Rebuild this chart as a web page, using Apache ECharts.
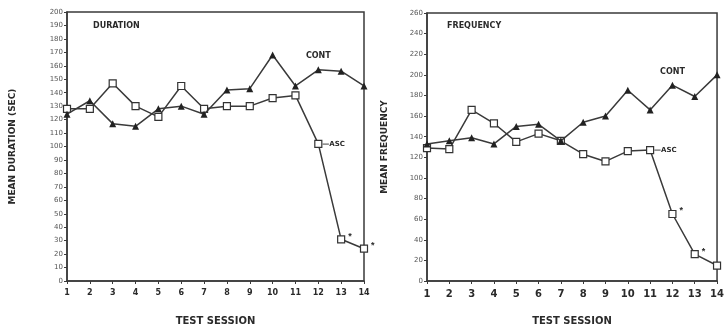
<!DOCTYPE html>
<html>
<head>
<meta charset="utf-8">
<script src="https://cdn.jsdelivr.net/npm/echarts@6/dist/echarts.min.js"></script>
<style>
  html, body { margin: 0; padding: 0; background: #fff; }
  #chart { width: 727px; height: 331px; }
</style>
</head>
<body>
<div id="chart"></div>
<script>
// test sessions on x
var sessions = ['1', '2', '3', '4', '5', '6', '7', '8', '9', '10', '11', '12', '13', '14'];

// mean duration (sec)
var durCont = [124, 134, 117, 115, 128, 130, 124, 142, 143, 168, 145, 157, 156, 145];
var durAsc  = [128, 128, 147, 130, 122, 145, 128, 130, 130, 136, 138, 102, 31, 24];

// mean frequency
var freqCont = [133, 136, 139, 133, 150, 152, 136, 154, 160, 185, 166, 190, 179, 200];
var freqAsc  = [129, 128, 166, 153, 135, 143, 136, 123, 116, 126, 127, 65, 26, 15];

// sessions marked with an asterisk
var durStars = [13, 14];
var freqStars = [12, 13];

var lineColor = '#3a3a3a';
var textColor = '#2a2a2a';
var font = 'DejaVu Sans';

function withStars(values, stars) {
  return values.map(function (v, i) {
    if (stars.indexOf(i + 1) >= 0) {
      return { value: v, label: { show: true, formatter: '*', position: 'right', distance: 3,
        color: textColor, fontSize: 9, fontWeight: 'bold', offset: [0, -3] } };
    }
    return v;
  });
}

function xAxisFor(idx) {
  return {
    gridIndex: idx,
    type: 'category',
    data: sessions,
    boundaryGap: false,
    name: 'TEST SESSION',
    nameLocation: 'middle',
    nameGap: 35,
    nameTextStyle: { color: textColor, fontFamily: font, fontWeight: 'bold', fontSize: 10 },
    axisLine: { lineStyle: { color: lineColor, width: 1.5 } },
    axisTick: { alignWithLabel: true, length: 3, lineStyle: { color: lineColor } },
    axisLabel: { color: textColor, fontFamily: font, fontWeight: 'bold', fontSize: idx ? 10 : 8, margin: 8 },
    splitLine: { show: false }
  };
}

function yAxisFor(idx, name, max, step, gap) {
  return {
    gridIndex: idx,
    type: 'value',
    min: 0,
    max: max,
    interval: step,
    name: name,
    nameLocation: 'middle',
    nameGap: gap,
    nameTextStyle: { color: textColor, fontFamily: font, fontWeight: 'bold', fontSize: 9 },
    axisLine: { show: true, lineStyle: { color: lineColor, width: 1.5 } },
    axisTick: { show: true, length: 3, lineStyle: { color: lineColor } },
    axisLabel: { color: '#555', fontFamily: font, fontSize: 7, margin: 4 },
    splitLine: { show: false }
  };
}

function contSeries(idx, values, labelAt) {
  return {
    name: 'CONT',
    type: 'line',
    xAxisIndex: idx,
    yAxisIndex: idx,
    data: values,
    symbol: 'triangle',
    symbolSize: 7,
    lineStyle: { color: lineColor, width: 1.5 },
    itemStyle: { color: '#222' },
    z: 3,
    markPoint: {
      symbol: 'circle',
      symbolSize: 0,
      label: { show: true, formatter: 'CONT', color: textColor, fontFamily: font, fontWeight: 'bold', fontSize: 8 },
      data: [{ coord: labelAt }]
    }
  };
}

function ascSeries(idx, values, labelAt) {
  return {
    name: 'ASC',
    type: 'line',
    xAxisIndex: idx,
    yAxisIndex: idx,
    data: values,
    symbol: 'rect',
    symbolSize: 7,
    lineStyle: { color: lineColor, width: 1.5 },
    itemStyle: { color: '#fff', borderColor: '#333', borderWidth: 1.2 },
    z: 2,
    markPoint: {
      symbol: 'circle',
      symbolSize: 0,
      label: { show: true, formatter: '—ASC', position: 'right', distance: 4,
        color: textColor, fontFamily: font, fontWeight: 'bold', fontSize: 7 },
      data: [{ coord: labelAt }]
    }
  };
}

var chart = echarts.init(document.getElementById('chart'), null, { renderer: 'canvas' });

chart.setOption({
  backgroundColor: '#fff',
  animation: false,
  title: [
    { text: 'DURATION', left: 88, top: 17,
      textStyle: { color: textColor, fontFamily: font, fontWeight: 'bold', fontSize: 8 } },
    { text: 'FREQUENCY', left: 442, top: 17,
      textStyle: { color: textColor, fontFamily: font, fontWeight: 'bold', fontSize: 8 } }
  ],
  grid: [
    { left: 67, right: 363, top: 12, bottom: 43, show: true, borderColor: lineColor, borderWidth: 1.5 },
    { left: 427, right: 5, top: 13, bottom: 43, show: true, borderColor: lineColor, borderWidth: 1.5 }
  ],
  xAxis: [xAxisFor(0), xAxisFor(1)],
  yAxis: [
    yAxisFor(0, 'MEAN DURATION (SEC)', 200, 10, 50),
    yAxisFor(1, 'MEAN FREQUENCY', 260, 20, 38)
  ],
  series: [
    ascSeries(0, withStars(durAsc, durStars), ['12', 102]),
    contSeries(0, durCont, ['12', 167]),
    ascSeries(1, withStars(freqAsc, freqStars), ['11', 127]),
    contSeries(1, freqCont, ['12', 203])
  ]
});
</script>
</body>
</html>
